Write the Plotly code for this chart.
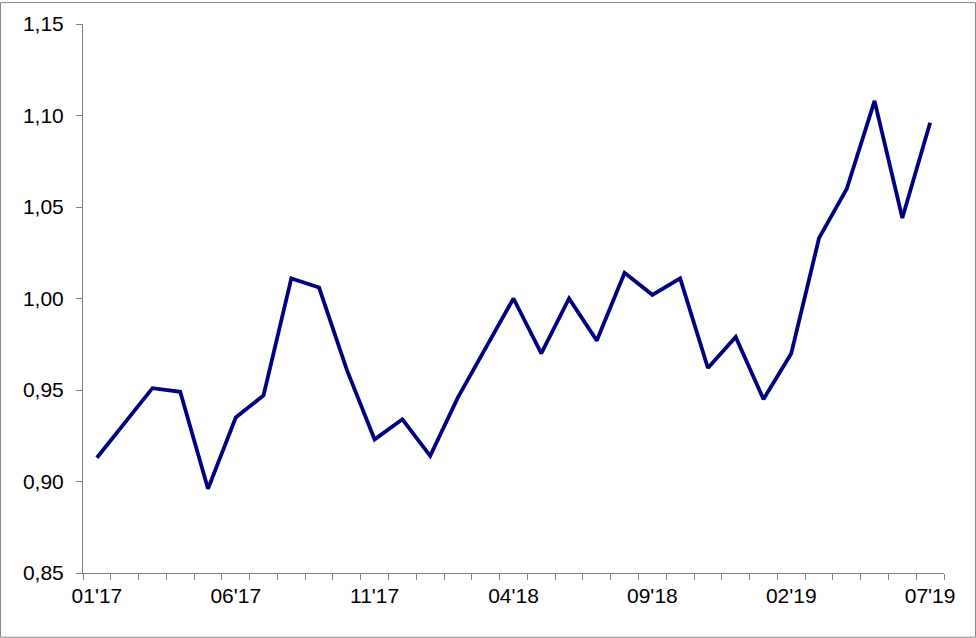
import plotly.graph_objects as go

months = ["01'17","02'17","03'17","04'17","05'17","06'17","07'17","08'17","09'17","10'17","11'17","12'17",
          "01'18","02'18","03'18","04'18","05'18","06'18","07'18","08'18","09'18","10'18","11'18","12'18",
          "01'19","02'19","03'19","04'19","05'19","06'19","07'19"]
values = [0.913, 0.932, 0.951, 0.949, 0.896, 0.935, 0.947, 1.011, 1.006, 0.961, 0.923, 0.934,
          0.914, 0.946, 0.973, 1.000, 0.970, 1.000, 0.977, 1.014, 1.002, 1.011, 0.962, 0.979,
          0.945, 0.970, 1.033, 1.060, 1.108, 1.044, 1.096]
y_ticks = [0.85, 0.90, 0.95, 1.00, 1.05, 1.10, 1.15]
y_labels = ["0,85", "0,90", "0,95", "1,00", "1,05", "1,10", "1,15"]

W, H = 976, 638
L, R, T, B = 83, 32, 22, 65
pw, ph = W - L - R, H - T - B

idx = list(range(len(months)))
label_idx = idx[::5]

fig = go.Figure()
fig.add_trace(go.Scatter(x=idx, y=values, mode="lines",
                         line=dict(color="#000080", width=3.8), hoverinfo="skip"))

fig.update_layout(
    width=W, height=H,
    margin=dict(l=L, r=R, t=T, b=B),
    paper_bgcolor="white", plot_bgcolor="white",
    showlegend=False,
    font=dict(family="Liberation Sans, Arial, sans-serif", size=21, color="black"),
    xaxis=dict(
        range=[-0.5, len(months) - 0.5],
        tickmode="array", tickvals=label_idx, ticktext=[months[i] for i in label_idx],
        ticks="", showgrid=False, zeroline=False,
        showline=True, linecolor="#808080", linewidth=1,
        minor=dict(tickmode="array", tickvals=[i - 0.5 for i in range(len(months) + 1)],
                   ticks="outside", ticklen=6, tickcolor="#808080", tickwidth=1, showgrid=False),
        ticklabelstandoff=4,
    ),
    yaxis=dict(
        range=[0.85, 1.15],
        tickmode="array", tickvals=y_ticks, ticktext=y_labels,
        ticks="outside", ticklen=6, tickcolor="#808080", tickwidth=1,
        showgrid=False, zeroline=False,
        showline=True, linecolor="#808080", linewidth=1,
        ticklabelstandoff=8,
    ),
    shapes=[dict(type="rect", xref="paper", yref="paper",
                 x0=(-L + 0.5) / pw, x1=(pw + R - 0.5) / pw,
                 y0=(-B + 0.5) / ph, y1=(ph + T - 0.5) / ph,
                 line=dict(color="#888888", width=1), layer="below")],
)

fig.write_html("out.html", config={"displayModeBar": False, "staticPlot": True})

with open("out.html", encoding="utf-8") as f:
    html = f.read()
html = html.replace("<head>", "<head><style>html,body{margin:0;padding:0;overflow:hidden;}</style>", 1)
with open("out.html", "w", encoding="utf-8") as f:
    f.write(html)
